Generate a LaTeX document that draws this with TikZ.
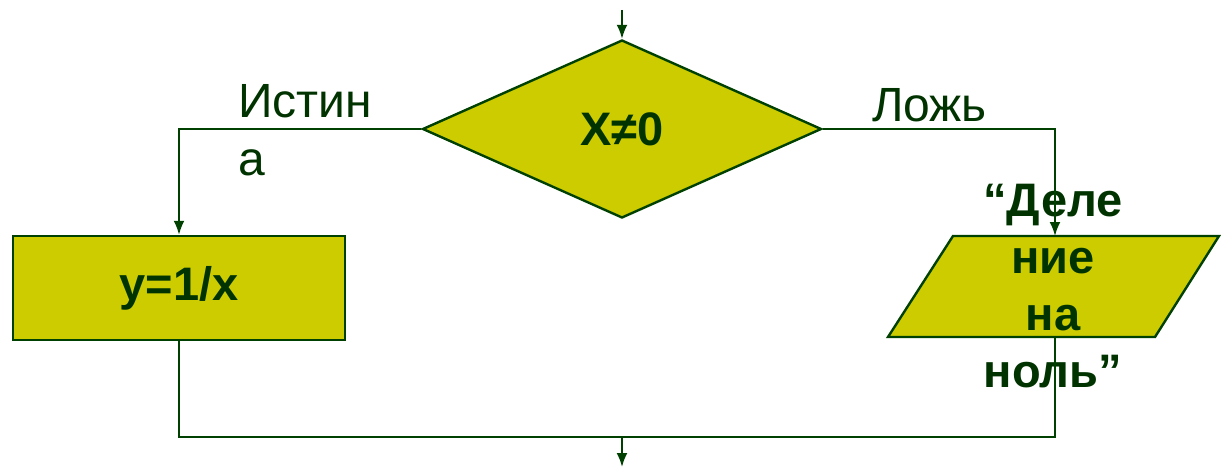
\documentclass[tikz,border=0pt]{standalone}
\usepackage{fontspec}
\setmainfont{Liberation Sans}
\usepackage{tikz}
\usetikzlibrary{shapes.geometric, arrows.meta, positioning}
\definecolor{flowline}{RGB}{0,64,0}
\definecolor{flowfill}{RGB}{204,204,0}
\definecolor{flowtext}{RGB}{0,51,0}
\newcommand{\fcfont}{\fontsize{48}{58}\selectfont}
\newcommand{\fcbold}{\fontsize{47}{57}\selectfont\bfseries}
\tikzset{
  decision/.style={diamond, draw=flowline, fill=flowfill, line width=2.4pt,
                   inner sep=0pt, minimum width=399pt, minimum height=178pt,
                   text=flowtext, font=\fcbold},
  process/.style={rectangle, draw=flowline, fill=flowfill, line width=2.4pt,
                  inner sep=0pt, minimum width=332pt, minimum height=104pt,
                  text=flowtext, font=\fcbold},
  iobox/.style={draw=flowline, fill=flowfill, line width=2.4pt, line join=miter},
  iotext/.style={align=center, inner sep=0pt, text=flowtext, font=\fcbold},
  branch/.style={align=left, inner sep=0pt, text=flowtext, font=\fcfont},
  flow/.style={draw=flowline, line width=2pt},
  arrow/.style={flow, -{Latex[length=14pt, width=11pt]}}
}
\begin{document}
\begin{tikzpicture}[x=1pt, y=1pt]
  \useasboundingbox (0,0) rectangle (1221,-476);

  %% ── Shapes ──────────────────────────────────────────────────────────────
  \node[decision] (cond) at (622,-129) {X≠0};
  \node[process] (calc) at (179,-288) {y=1/x};

  \draw[iobox] (953,-236) -- (1219,-236) -- (1155,-337) -- (888,-337) -- cycle;
  \coordinate (msgtop) at (1055,-236);
  \coordinate (msgbot) at (1055,-337);
  \node[iotext] (msg) at (1053,-286)
        {“Деле\\ние\\на\\ноль”};

  %% ── Branch labels ───────────────────────────────────────────────────────
  \node[branch, anchor=north west] (yes) at (238,-84) {Истин\\а};
  \node[branch, anchor=base west] (no) at (872,-122) {Ложь};

  %% ── Arrows ──────────────────────────────────────────────────────────────
  \coordinate (entry) at (622,-10);
  \coordinate (join) at (622,-437);
  \coordinate (exit) at (622,-467);

  \draw[arrow] (entry) -- (cond.north);
  \draw[arrow] (cond.west) -| (calc.north);
  \draw[arrow] (cond.east) -| (msgtop);

  \draw[flow] (calc.south) |- (join) -| (msgbot);
  \draw[arrow] (join) -- (exit);

\end{tikzpicture}
\end{document}
